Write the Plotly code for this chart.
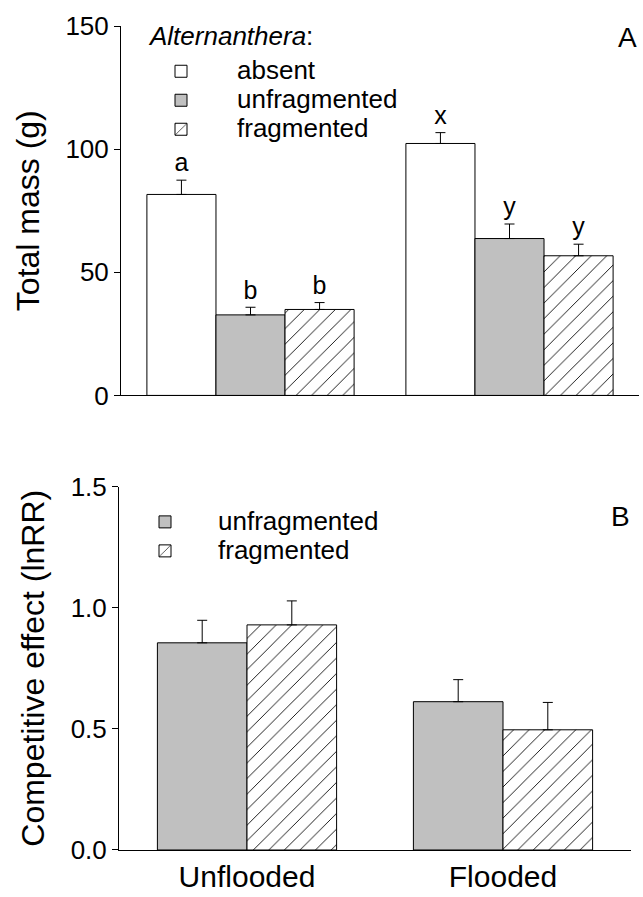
import plotly.graph_objects as go

groups = ["Unflooded", "Flooded"]
group_idx = [0, 1]

# Panel A: total mass (g)
mass_absent = [81.6, 102.3]
mass_absent_err = [5.8, 4.4]
mass_unfrag = [32.7, 63.7]
mass_unfrag_err = [3.1, 5.9]
mass_frag = [34.9, 56.7]
mass_frag_err = [2.8, 4.7]
letters_absent = ["a", "x"]
letters_unfrag = ["b", "y"]
letters_frag = ["b", "y"]

# Panel B: competitive effect (lnRR)
ce_unfrag = [0.855, 0.612]
ce_unfrag_err = [0.093, 0.091]
ce_frag = [0.929, 0.496]
ce_frag_err = [0.099, 0.113]

yticks_A = [0, 50, 100, 150]
yticks_B = [0.0, 0.5, 1.0, 1.5]
yticktext_B = ["0.0", "0.5", "1.0", "1.5"]

FONT = "Liberation Sans, Arial, sans-serif"
GRAY = "#c0c0c0"
LEG_TXT = "<span style='font-size:26px'>{}</span>"

fig = go.Figure()


def errbar(err):
    return dict(type="data", symmetric=False, array=err, arrayminus=[0] * len(err),
                color="black", thickness=1, width=5)


hatch = dict(shape="/", fgcolor="black", bgcolor="white", size=11, solidity=0.08, fillmode="replace")
letter_pad = 1.0  # gap above error bar, in data units

wA = 0.8 / 3
offsA = [-0.4, -0.4 + wA, -0.4 + 2 * wA]
seriesA = [
    ("absent", mass_absent, mass_absent_err, letters_absent, dict(color="white"), offsA[0]),
    ("unfragmented", mass_unfrag, mass_unfrag_err, letters_unfrag, dict(color=GRAY), offsA[1]),
    ("fragmented", mass_frag, mass_frag_err, letters_frag, dict(color="white", pattern=hatch), offsA[2]),
]
for name, vals, err, lets, mk, off in seriesA:
    mk = dict(mk)
    mk["line"] = dict(color="black", width=1)
    fig.add_trace(go.Bar(x=group_idx, y=vals, width=wA, offset=off, name=LEG_TXT.format(name),
                         marker=mk, error_y=errbar(err), xaxis="x", yaxis="y",
                         legend="legend", showlegend=True))
    fig.add_trace(go.Scatter(x=[i + off + wA / 2 for i in group_idx],
                             y=[v + e + letter_pad for v, e in zip(vals, err)],
                             mode="text", text=lets, textposition="top center",
                             textfont=dict(size=25, color="black", family=FONT),
                             showlegend=False, xaxis="x", yaxis="y", hoverinfo="skip"))

wB = 0.35
offsB = [-0.35, 0.0]
seriesB = [
    ("unfragmented", ce_unfrag, ce_unfrag_err, dict(color=GRAY), offsB[0]),
    ("fragmented", ce_frag, ce_frag_err, dict(color="white", pattern=hatch), offsB[1]),
]
for name, vals, err, mk, off in seriesB:
    mk = dict(mk)
    mk["line"] = dict(color="black", width=1)
    fig.add_trace(go.Bar(x=group_idx, y=vals, width=wB, offset=off, name=LEG_TXT.format(name),
                         marker=mk, error_y=errbar(err), xaxis="x2", yaxis="y2",
                         legend="legend2", showlegend=True))

W, H = 643, 897
ml, mr, mt, mb = 119, 4, 26, 39
pw = W - ml - mr
ph = H - mt - mb


def px_x(p):
    return (p - ml) / pw


def px_y(p):
    return (H - mb - p) / ph


axis_common = dict(showgrid=False, zeroline=False, showline=True, linecolor="black",
                   linewidth=1, tickfont=dict(size=26, color="black", family=FONT))

fig.update_layout(
    width=W, height=H,
    margin=dict(l=ml, r=mr, t=mt, b=mb),
    paper_bgcolor="white", plot_bgcolor="white",
    barmode="overlay",
    font=dict(family=FONT, color="black"),
    xaxis=dict(domain=[px_x(121), 1], range=[-0.5, 1.5], anchor="y",
               showticklabels=False, ticks="", **axis_common),
    yaxis=dict(domain=[px_y(399), 1], range=[0, 150], anchor="x",
               tickvals=yticks_A, ticks="outside", ticklen=6, tickcolor="black",
               title=dict(text="Total mass (g)", font=dict(size=32, family=FONT), standoff=16),
               **axis_common),
    xaxis2=dict(domain=[0, px_x(631)], range=[-0.5, 1.5], anchor="y2",
                tickvals=group_idx, ticktext=groups, ticks="",
                **{**axis_common, "tickfont": dict(size=30, color="black", family=FONT)}),
    yaxis2=dict(domain=[0, px_y(491)], range=[0, 1.5], anchor="x2",
                tickvals=yticks_B, ticktext=yticktext_B, ticks="outside", ticklen=6,
                tickcolor="black",
                title=dict(text="Competitive effect (lnRR)", font=dict(size=32, family=FONT), standoff=16),
                **axis_common),
    legend=dict(x=px_x(125), y=px_y(52), xanchor="left", yanchor="top",
                font=dict(size=20), bgcolor="rgba(0,0,0,0)",
                itemwidth=102, traceorder="normal"),
    legend2=dict(x=px_x(112), y=px_y(507), xanchor="left", yanchor="top",
                 font=dict(size=20), bgcolor="rgba(0,0,0,0)",
                 itemwidth=96, traceorder="normal"),
    annotations=[
        dict(text="<i>Alternanthera</i>:", x=px_x(146), y=px_y(36), xref="paper", yref="paper",
             xanchor="left", yanchor="middle", showarrow=False, font=dict(size=26)),
        dict(text="A", x=1, y=px_y(38), xref="paper", yref="paper", xanchor="right",
             yanchor="middle", showarrow=False, font=dict(size=28)),
        dict(text="B", x=px_x(632), y=px_y(521), xref="paper", yref="paper", xanchor="right",
             yanchor="middle", showarrow=False, font=dict(size=28)),
    ],
)

fig.write_html("out.html", config={"displayModeBar": False},
               post_script="document.body.style.margin='0';document.body.style.overflow='hidden';")
